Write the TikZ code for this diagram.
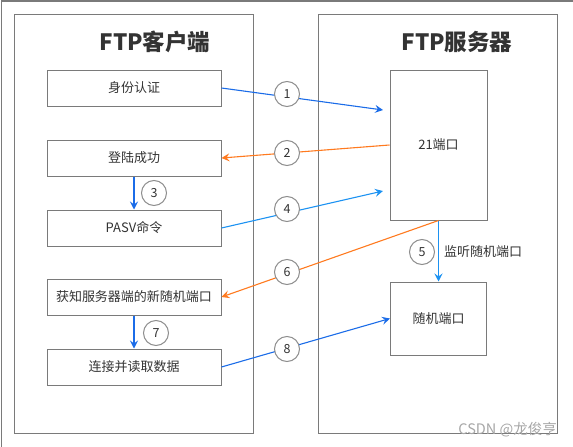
\documentclass[tikz,border=0pt]{standalone}
\usepackage{fontspec}
\setmainfont{Noto Sans CJK SC}
\usetikzlibrary{arrows.meta}
\definecolor{dblue}{HTML}{1B6CE8}
\definecolor{lblue}{HTML}{1C92F2}
\definecolor{orng}{HTML}{FF7A1F}
\definecolor{bord}{HTML}{7A7A7A}
\definecolor{txt}{HTML}{333333}
\begin{document}
\begin{tikzpicture}[x=1pt,y=-1pt,
  panel/.style={draw=bord,line width=1pt,inner sep=0pt,anchor=north west,minimum width=239pt,minimum height=419pt},
  stepbox/.style={draw=bord,line width=1pt,minimum width=174pt,minimum height=36pt,inner sep=0pt,font=\fontsize{13}{15}\selectfont,text=txt},
  portbox/.style={draw=bord,line width=1pt,inner sep=0pt,font=\fontsize{13}{15}\selectfont,text=txt},
  title/.style={font=\fontsize{22.5}{26}\selectfont\bfseries,text=txt},
  num/.style={circle,draw=bord!85,fill=white,line width=1pt,minimum size=25pt,inner sep=0pt,font=\fontsize{12.5}{14}\selectfont,text=txt},
  flow/.style={line width=1.1pt,-{Stealth[length=8pt,width=8pt,inset=3pt]}},
]
\useasboundingbox (0,0) rectangle (573,447);
\node[draw=bord,line width=1pt,inner sep=0pt,anchor=north west,minimum width=572pt,minimum height=446pt] (frame) at (0.5,0.5) {};
% panels
\node[panel] (client) at (14,14) {};
\node[panel] (server) at (318,14) {};
\node[title] (ctitle) at (155,42) {FTP客户端};
\node[title] (stitle) at (457,42) {FTP服务器};
% client steps
\node[stepbox] (auth)  at (134,88)  {身份认证};
\node[stepbox] (login) at (134,158) {登陆成功};
\node[stepbox] (pasv)  at (134,228) {PASV命令};
\node[stepbox] (learn) at (134,297) {获知服务器端的新随机端口};
\node[stepbox] (data)  at (134,367) {连接并读取数据};
% server ports
\node[portbox,minimum width=97pt,minimum height=150pt] (p21) at (438.5,145) {21端口};
\node[portbox,minimum width=96pt,minimum height=73pt] (rnd) at (438.5,318.5) {随机端口};
% free ends
\coordinate (e1) at (383,110);
\coordinate (e4) at (383,191);
% connectors
\draw[flow,draw=dblue] (auth.east) -- (e1);
\draw[flow,draw=orng] (p21.west) -- (login.east);
\draw[flow,draw=dblue] (login.south) -- (pasv.north);
\draw[flow,draw=lblue] (pasv.east) -- (e4);
\draw[flow,draw=lblue] (p21.south) -- (rnd.north);
\draw[flow,draw=orng] (p21.south) -- (learn.east);
\draw[flow,draw=dblue] (learn.south) -- (data.north);
\draw[flow,draw=dblue] (data.east) -- (rnd.west);
% step numbers
\node[num] (n1) at (287,94) {1};
\node[num] (n2) at (287,153) {2};
\node[num] (n3) at (154,193) {3};
\node[num] (n4) at (287,209) {4};
\node[num] (n5) at (422,252) {5};
\node[num] (n6) at (287,272) {6};
\node[num] (n7) at (156,333) {7};
\node[num] (n8) at (287,349) {8};
\node[anchor=west,font=\fontsize{13}{15}\selectfont,text=txt,inner sep=0pt] (listen) at (444,252) {监听随机端口};
\node[anchor=east,font=\fontsize{14.5}{17}\selectfont,text=black!35,inner sep=0pt] (mark) at (557,430) {CSDN @龙俊亨};
\end{tikzpicture}
\end{document}
